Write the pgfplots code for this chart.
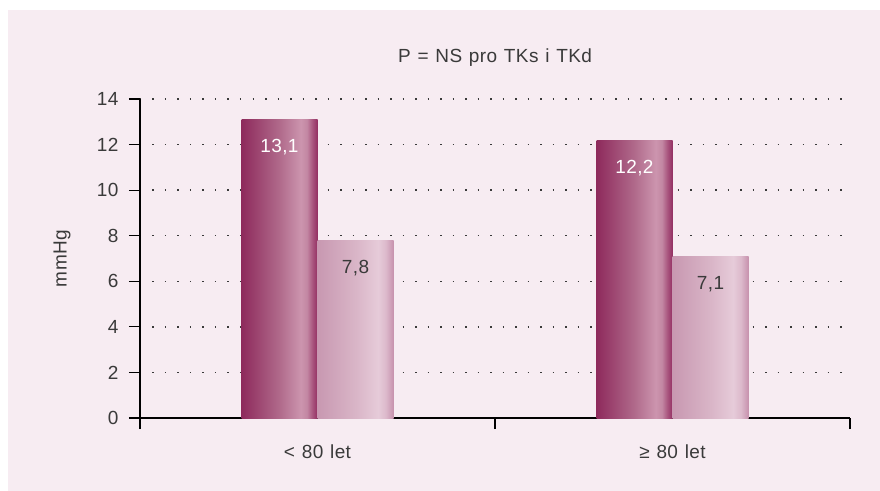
\documentclass[border=0pt]{standalone}
\usepackage{fontspec}
\setmainfont{Liberation Sans}[LetterSpace=2, WordSpace=1.2]
\usepackage{pgfplots}
\pgfplotsset{compat=1.18}

\definecolor{panel}{HTML}{F7ECF2}
\definecolor{txt}{HTML}{3A3A3A}
\definecolor{dA}{HTML}{8E2A5C}
\definecolor{dB}{HTML}{B06A8B}
\definecolor{dC}{HTML}{CC95AE}
\definecolor{dD}{HTML}{C387A3}
\definecolor{dE}{HTML}{AA5780}
\definecolor{dF}{HTML}{932F62}
\definecolor{lA}{HTML}{C898B1}
\definecolor{lB}{HTML}{D9B5C7}
\definecolor{lC}{HTML}{E6CBD9}
\definecolor{lD}{HTML}{DCB9CB}
\definecolor{lE}{HTML}{C791AD}

% bar gradients, left to right (25bp..75bp = bar width)
\pgfdeclarehorizontalshading{darkbar}{100bp}{
  color(0bp)=(dA); color(25bp)=(dA); color(50bp)=(dB); color(64bp)=(dC);
  color(68bp)=(dD); color(71.5bp)=(dE); color(75bp)=(dF); color(100bp)=(dF)}
\pgfdeclarehorizontalshading{lightbar}{100bp}{
  color(0bp)=(lA); color(25bp)=(lA); color(50bp)=(lB); color(65bp)=(lC);
  color(70bp)=(lD); color(75bp)=(lE); color(100bp)=(lE)}

\begin{document}
\fontsize{19bp}{22bp}\selectfont
\begin{tikzpicture}
\useasboundingbox (-140bp,-73bp) rectangle (740bp,418bp);
\fill[panel] (-132bp,-73bp) rectangle (740bp,408bp);
\begin{axis}[
    at={(0,0)}, anchor=south west,
    scale only axis,
    width=710bp, height=319bp,
    ybar=0pt, bar width=76bp,
    xmin=-0.5, xmax=1.5,
    ymin=0, ymax=14,
    ytick={0,2,...,14},
    xtick={0,1},
    xticklabels={< 80 let, ≥ 80 let},
    minor xtick={-0.5,0.5,1.5},
    axis x line*=bottom, axis y line*=left,
    axis line style={black, line width=1.2bp},
    tick align=outside,
    major tick length=11bp, minor tick length=11bp,
    every major x tick/.append style={draw=none},
    every minor x tick/.append style={black, line width=1.2bp},
    ytick style={black, line width=1.2bp},
    ymajorgrids,
    grid style={txt, line width=1.5bp, dash pattern=on 1.5bp off 11bp},
    /pgf/number format/assume math mode=true,
    tick label style={font=\fontsize{19bp}{22bp}\selectfont, text=txt},
    xticklabel style={yshift=-9bp},
    yticklabel style={xshift=-4bp},
    nodes near coords,
    nodes near coords style={font=\fontsize{19bp}{22bp}\selectfont,
      anchor=center, yshift=-28bp,
      /pgf/number format/fixed, /pgf/number format/precision=1,
      /pgf/number format/fixed zerofill, /pgf/number format/use comma,
      /pgf/number format/assume math mode=true},
    clip=false,
]
% each bar is its own plot so that its gradient spans that bar only
\addplot[draw=none, shading=darkbar, bar shift=-38bp,
  every node near coord/.append style={text=white}]
  coordinates {(0,13.1)};
\addplot[draw=none, shading=darkbar, bar shift=-38bp,
  every node near coord/.append style={text=white}]
  coordinates {(1,12.2)};
\addplot[draw=none, shading=lightbar, bar shift=38bp,
  every node near coord/.append style={text=txt}]
  coordinates {(0,7.8)};
\addplot[draw=none, shading=lightbar, bar shift=38bp,
  every node near coord/.append style={text=txt}]
  coordinates {(1,7.1)};
\end{axis}
\node[text=txt, rotate=90] at (-78bp,159.5bp) {mmHg};
\node[text=txt] at (355bp,360bp) {P = NS pro TKs i TKd};
\end{tikzpicture}
\end{document}
